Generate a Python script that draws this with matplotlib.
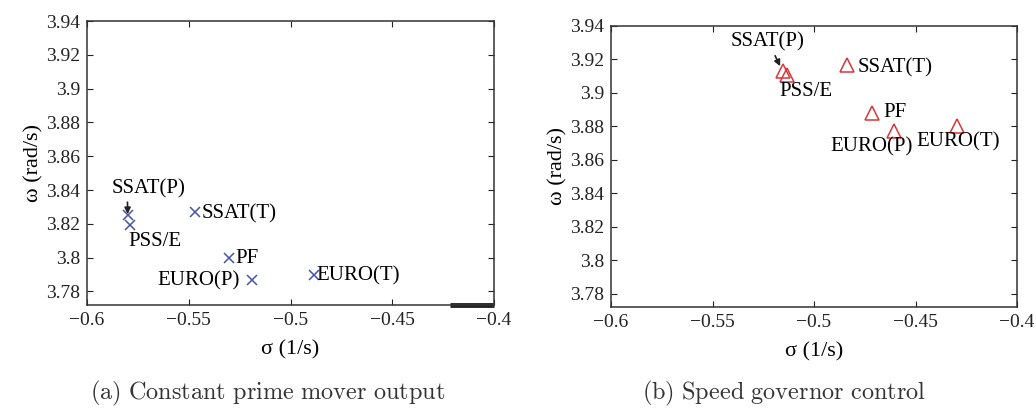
import matplotlib
matplotlib.use("Agg")
import matplotlib.pyplot as plt
from matplotlib.ticker import FuncFormatter

plt.rcParams['font.family'] = ['Liberation Serif', 'DejaVu Serif']
plt.rcParams['mathtext.fontset'] = 'cm'

# Eigenvalue estimates from each tool: sigma (1/s), omega (rad/s)
tools = ["SSAT(P)", "PSS/E", "SSAT(T)", "PF", "EURO(P)", "EURO(T)"]

sigma_const = [-0.580, -0.579, -0.547, -0.530, -0.519, -0.4884]
omega_const = [3.825, 3.8195, 3.827, 3.7996, 3.7865, 3.790]

sigma_gov = [-0.5155, -0.5135, -0.4837, -0.4714, -0.4606, -0.4296]
omega_gov = [3.913, 3.911, 3.9166, 3.888, 3.877, 3.880]

x_ticks = [-0.6, -0.55, -0.5, -0.45, -0.4]
y_ticks = [3.78, 3.80, 3.82, 3.84, 3.86, 3.88, 3.90, 3.92, 3.94]
x_range = (-0.6, -0.4)
y_range = (3.772, 3.94)

# short heavy stroke on the lower frame of panel (a)
bottom_stroke_x = [-0.4215, -0.4]

# label placements (data coords) and alignment per panel
labels_const = {
    "SSAT(P)": (-0.570, 3.841, "center"),
    "PSS/E": (-0.5798, 3.8096, "left"),
    "SSAT(T)": (-0.5435, 3.8262, "left"),
    "PF": (-0.5272, 3.7996, "left"),
    "EURO(P)": (-0.5248, 3.7865, "right"),
    "EURO(T)": (-0.4874, 3.7895, "left"),
}
labels_gov = {
    "SSAT(P)": (-0.5227, 3.9304, "center"),
    "PSS/E": (-0.5172, 3.9011, "left"),
    "SSAT(T)": (-0.4783, 3.9148, "left"),
    "PF": (-0.4660, 3.8885, "left"),
    "EURO(P)": (-0.4719, 3.8675, "center"),
    "EURO(T)": (-0.4291, 3.8705, "center"),
}

fig = plt.figure(figsize=(10.36, 4.12), dpi=100)
ax1 = fig.add_axes([0.0840, 0.2597, 0.3929, 0.6893])
ax2 = fig.add_axes([0.5898, 0.2549, 0.3919, 0.6820])

fmt_y = FuncFormatter(lambda v, p: f"{v:g}")
fmt_x = FuncFormatter(lambda v, p: f"{v:g}".replace("-", "\u2212"))

for ax in (ax1, ax2):
    ax.set_xlim(*x_range)
    ax.set_ylim(*y_range)
    ax.set_xticks(x_ticks)
    ax.set_yticks(y_ticks)
    ax.xaxis.set_major_formatter(fmt_x)
    ax.yaxis.set_major_formatter(fmt_y)
    ax.tick_params(direction="in", top=True, right=True, length=4,
                   width=0.8, labelsize=14, pad=5, colors="#222222")
    for s in ax.spines.values():
        s.set_linewidth(1.1)
        s.set_color("#333333")
    ax.set_xlabel("\u03c3 (1/s)", fontsize=16, labelpad=8)
    ax.set_ylabel("\u03c9 (rad/s)", fontsize=16, labelpad=2)

# (a) constant prime mover output
ax1.plot(sigma_const, omega_const, linestyle="none", marker="x",
         markersize=7, markeredgewidth=1.1, color="#4553a6")
ax1.plot(bottom_stroke_x, [y_range[0]] * 2, color="#222222", lw=3.5,
         clip_on=False, solid_capstyle="butt")
for name, sx, sy in zip(tools, sigma_const, omega_const):
    tx, ty, ha = labels_const[name]
    if name == "SSAT(P)":
        ax1.annotate(name, xy=(sx, sy), xytext=(tx, ty), ha=ha, va="center",
                     fontsize=15,
                     arrowprops=dict(arrowstyle="-|>", color="#222222", lw=1.2,
                                     mutation_scale=9, relpos=(0.22, 0.0),
                                     shrinkA=1, shrinkB=1))
    else:
        ax1.text(tx, ty, name, ha=ha, va="center", fontsize=15)

# (b) speed governor control
ax2.plot(sigma_gov, omega_gov, linestyle="none", marker="^",
         markersize=10, markeredgewidth=1.1, markerfacecolor="none",
         markeredgecolor="#d9363a")
for name, sx, sy in zip(tools, sigma_gov, omega_gov):
    tx, ty, ha = labels_gov[name]
    if name == "SSAT(P)":
        ax2.annotate(name, xy=(sx, sy), xytext=(tx, ty), ha=ha, va="center",
                     fontsize=15,
                     arrowprops=dict(arrowstyle="-|>", color="#222222", lw=1.2,
                                     mutation_scale=9, relpos=(0.57, 0.0),
                                     shrinkA=1, shrinkB=4))
    else:
        ax2.text(tx, ty, name, ha=ha, va="center", fontsize=15)

fig.text(0.258, 0.045, r"$\mathrm{(a)\ Constant\ prime\ mover\ output}$",
         ha="center", va="center", fontsize=17.5, color="#333333")
fig.text(0.757, 0.045, r"$\mathrm{(b)\ Speed\ governor\ control}$",
         ha="center", va="center", fontsize=17.5, color="#333333")

fig.savefig("out.png", dpi=100)
